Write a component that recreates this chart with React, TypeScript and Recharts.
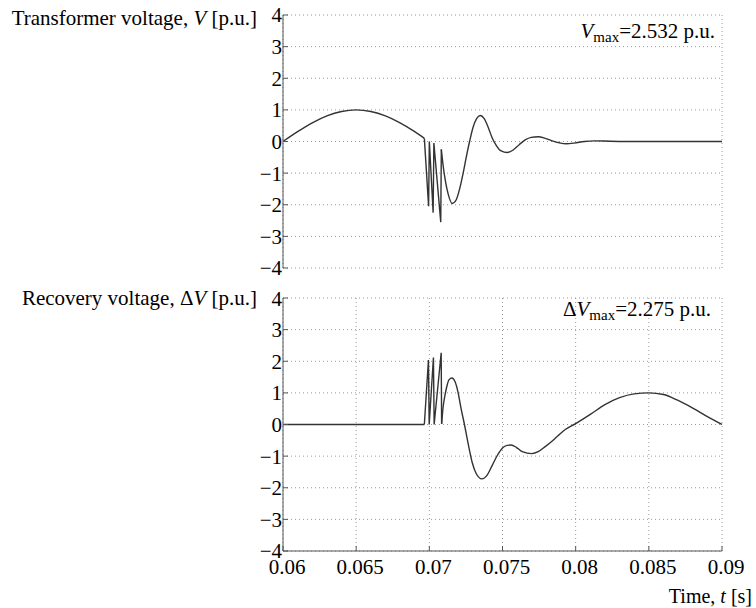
import { LineChart, Line, XAxis, YAxis, CartesianGrid } from 'recharts';

// time axis ticks [s] and voltage ticks [p.u.]
const timeTicks = [0.06, 0.065, 0.07, 0.075, 0.08, 0.085, 0.09];
const voltTicks = [-4, -3, -2, -1, 0, 1, 2, 3, 4];

// transformer voltage V
const vPreT = [0.06, 0.061, 0.062, 0.063, 0.064, 0.065, 0.066, 0.067, 0.068, 0.069, 0.06966];
const vPreV = [0, 0.31, 0.59, 0.81, 0.95, 1.0, 0.95, 0.81, 0.59, 0.31, 0.1];
const vSpikeT = [0.06966, 0.06995, 0.07, 0.07026, 0.07031, 0.07078, 0.07082];
const vSpikeV = [0.1, -2.05, 0.0, -2.25, -0.05, -2.55, -0.25];
const vRingT = [0.07082, 0.07094, 0.07108, 0.07128, 0.07156, 0.07183, 0.07207, 0.07231, 0.07252, 0.07275,
  0.07299, 0.07323, 0.07347, 0.07375, 0.07402, 0.07429, 0.07457, 0.07491, 0.07532, 0.07573, 0.07614,
  0.07655, 0.07696, 0.07744, 0.07792, 0.0784, 0.07888, 0.07935, 0.0799, 0.08059, 0.08127, 0.08236, 0.08442, 0.09];
const vRingV = [-0.25, -0.75, -1.2, -1.65, -1.96, -1.85, -1.5, -1.0, -0.5, 0.0,
  0.45, 0.72, 0.82, 0.72, 0.45, 0.12, -0.12, -0.3, -0.35, -0.27, -0.1,
  0.05, 0.13, 0.15, 0.1, 0.02, -0.04, -0.07, -0.05, 0.0, 0.02, 0.01, 0.0, 0.0];

// recovery voltage dV
const dvPreT = [0.06, 0.06966];
const dvPreV = [0, 0];
const dvSpikeT = [0.06966, 0.06994, 0.06999, 0.07028, 0.07033, 0.07081, 0.07084];
const dvSpikeV = [0, 2.04, 0, 2.12, 0, 2.27, 0.02];
const dvRingT = [0.07084, 0.07094, 0.07108, 0.07122, 0.07135, 0.07154, 0.07176, 0.07197, 0.07217, 0.0724,
  0.07265, 0.07293, 0.0732, 0.07359, 0.07395, 0.07429, 0.07464, 0.075, 0.07532, 0.07559, 0.07594,
  0.07635, 0.07701, 0.07744, 0.07792, 0.07838, 0.07881, 0.07929, 0.07997, 0.081, 0.082, 0.083, 0.084,
  0.085, 0.086, 0.087, 0.088, 0.089, 0.09];
const dvRingV = [0.02, 0.55, 0.95, 1.25, 1.42, 1.47, 1.35, 1.0, 0.5, 0.0,
  -0.6, -1.2, -1.55, -1.72, -1.6, -1.3, -0.98, -0.74, -0.66, -0.65, -0.72,
  -0.86, -0.92, -0.86, -0.7, -0.53, -0.35, -0.16, 0.02, 0.32, 0.63, 0.85, 0.97,
  1.0, 0.95, 0.76, 0.52, 0.25, 0.0];

const zip = (ts: number[], vs: number[]) => ts.map((t, i) => ({ t, v: vs[i] }));

const FONT = 'Liberation Serif';
const LINE = '#333';
const BOX = '#555';

const fmtVolt = (v: number) => (v < 0 ? '\u2212' + Math.abs(v) : String(v));

const tickStyle = { fontFamily: FONT, fontSize: 21 };

const YTick = ({ x, y, payload }: any) => (
  <text x={x} y={y} dy="0.355em" textAnchor="end" style={tickStyle} fill="#000">
    {fmtVolt(payload.value)}
  </text>
);

const XTick = ({ x, y, payload }: any) => (
  <text x={x + 4} y={y} dy="0.71em" textAnchor="middle" style={tickStyle} fill="#000">
    {String(payload.value)}
  </text>
);

const Panel = ({ pre, spike, ring, height, margin, xHeight, showX }: any) => (
  <LineChart width={756} height={height} margin={margin} style={{ fontFamily: FONT }}>
    <CartesianGrid stroke="#999" strokeDasharray="1 3" />
    <XAxis
      dataKey="t"
      type="number"
      domain={[0.06, 0.09]}
      ticks={timeTicks}
      height={xHeight}
      stroke={BOX}
      tickSize={-5}
      tickMargin={13}
      tick={showX ? <XTick /> : false}
    />
    <XAxis xAxisId="top" orientation="top" dataKey="t" type="number" domain={[0.06, 0.09]}
      ticks={timeTicks} height={0} stroke={BOX} tickSize={-5} tick={false} />
    <YAxis
      type="number"
      domain={[-4, 4]}
      ticks={voltTicks}
      width={283}
      stroke={BOX}
      tickSize={-5}
      tickMargin={6}
      tick={<YTick />}
    />
    <YAxis yAxisId="right" orientation="right" type="number" domain={[-4, 4]}
      ticks={voltTicks} width={0} stroke={BOX} tickSize={-5} tick={false} />
    <Line data={pre} dataKey="v" type="monotone" stroke={LINE} strokeWidth={1.4} dot={false} isAnimationActive={false} />
    <Line data={spike} dataKey="v" type="linear" stroke={LINE} strokeWidth={1.4} dot={false} isAnimationActive={false} />
    <Line data={ring} dataKey="v" type="monotone" stroke={LINE} strokeWidth={1.4} dot={false} isAnimationActive={false} />
  </LineChart>
);

export default function App() {
  return (
    <div style={{ position: 'absolute', left: 0, top: 0, width: 756, height: 608, background: '#fff', fontFamily: FONT }}>
      <div style={{ position: 'absolute', left: 0, top: 0 }}>
        <Panel pre={zip(vPreT, vPreV)} spike={zip(vSpikeT, vSpikeV)} ring={zip(vRingT, vRingV)}
          height={290} margin={{ top: 15, right: 34, bottom: 22, left: 0 }} xHeight={0} showX={false} />
      </div>
      <div style={{ position: 'absolute', left: 0, top: 290 }}>
        <Panel pre={zip(dvPreT, dvPreV)} spike={zip(dvSpikeT, dvSpikeV)} ring={zip(dvRingT, dvRingV)}
          height={318} margin={{ top: 8, right: 34, bottom: 0, left: 0 }} xHeight={57} showX={true} />
      </div>
      <svg width={756} height={608} style={{ position: 'absolute', left: 0, top: 0, pointerEvents: 'none', fontFamily: FONT }}
        fontSize={21} fill="#000">
        <text x={257} y={25} textAnchor="end">
          Transformer voltage, <tspan fontStyle="italic">V</tspan> [p.u.]
        </text>
        <text x={257} y={305} textAnchor="end">
          Recovery voltage, {'\u0394'}<tspan fontStyle="italic">V</tspan> [p.u.]
        </text>
        <text x={715} y={38} textAnchor="end">
          <tspan fontStyle="italic">V</tspan>
          <tspan fontSize={15} dy={4}>max</tspan>
          <tspan dy={-4}>=2.532 p.u.</tspan>
        </text>
        <text x={711} y={316} textAnchor="end">
          {'\u0394'}<tspan fontStyle="italic">V</tspan>
          <tspan fontSize={15} dy={4}>max</tspan>
          <tspan dy={-4}>=2.275 p.u.</tspan>
        </text>
        <text x={752} y={603} textAnchor="end" fontSize={20}>
          Time, <tspan fontStyle="italic">t</tspan> [s]
        </text>
      </svg>
    </div>
  );
}
